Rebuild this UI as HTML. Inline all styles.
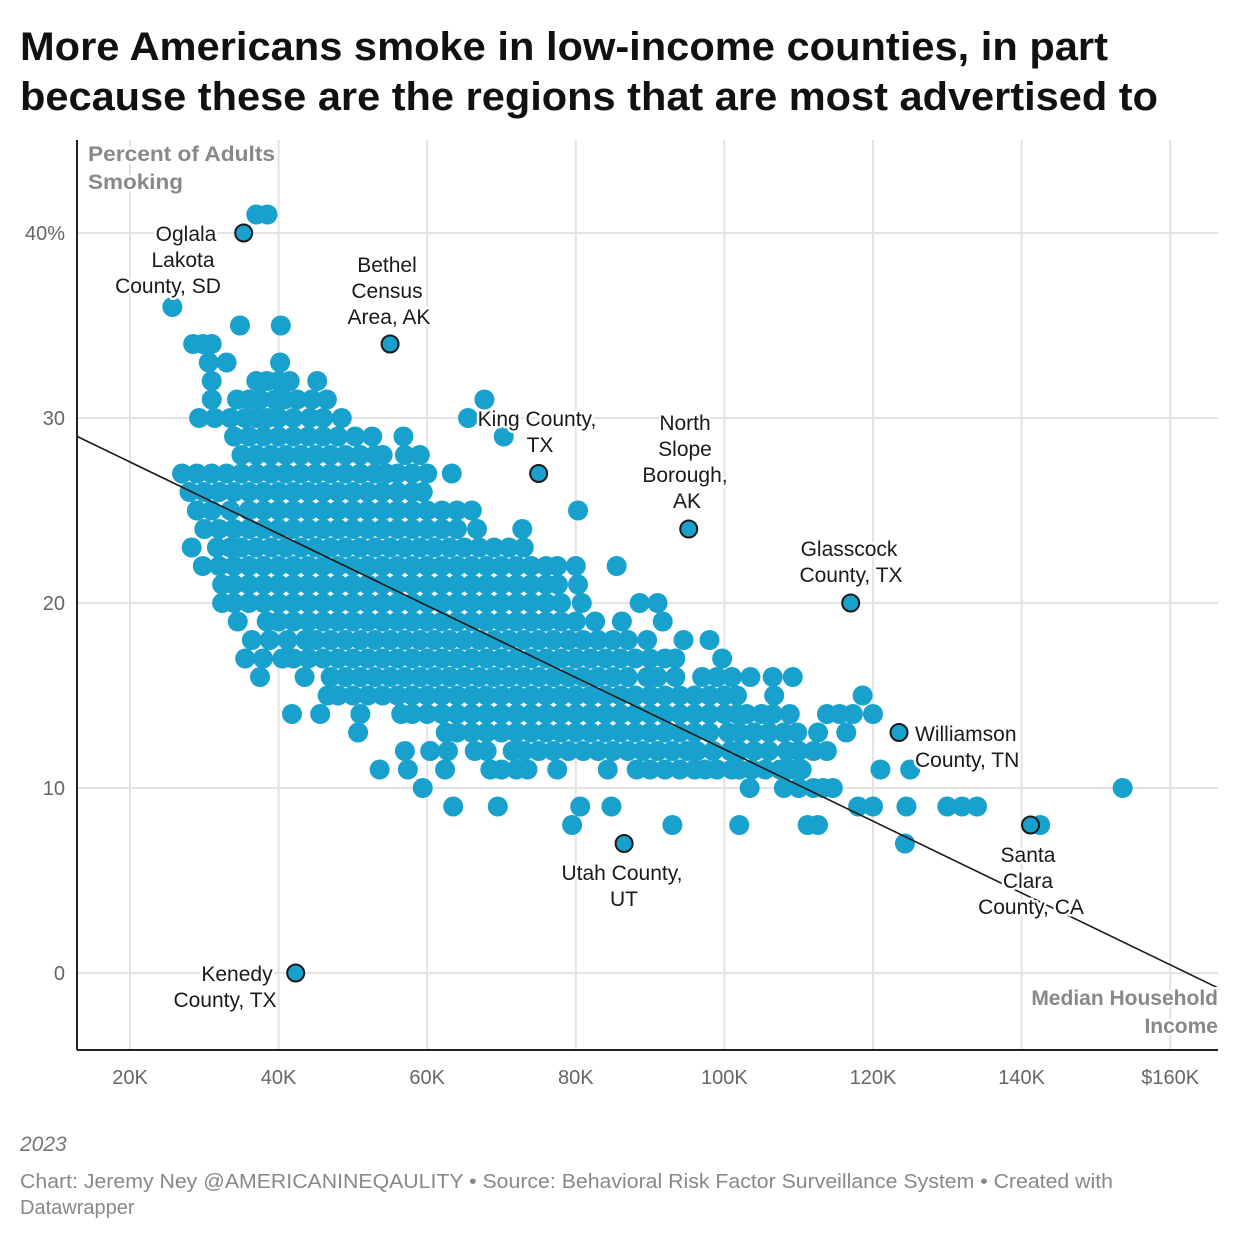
<!DOCTYPE html>
<html><head><meta charset="utf-8"><style>
html,body{margin:0;padding:0;background:#fff;}
svg{display:block;font-family:"Liberation Sans",Arial,sans-serif;}
.tick{fill:#666;font-size:20px;}
.ann{fill:#1a1a1a;font-size:21px;text-anchor:middle;paint-order:stroke;stroke:#fff;stroke-width:5px;stroke-linejoin:round;}
.axt{fill:#888;font-size:21px;font-weight:bold;paint-order:stroke;stroke:#fff;stroke-width:5px;}
</style></head><body>
<svg id="chart" width="1240" height="1240" viewBox="0 0 1240 1240">
<text x="20" y="60" font-size="40" font-weight="bold" fill="#111" textLength="1088" lengthAdjust="spacingAndGlyphs">More Americans smoke in low-income counties, in part</text>
<text x="20" y="110" font-size="40" font-weight="bold" fill="#111" textLength="1138" lengthAdjust="spacingAndGlyphs">because these are the regions that are most advertised to</text>
<g id="grid"></g>
<g id="ticks"></g>
<g id="dots"></g>
<g id="hl"></g>
<line id="trend" stroke="#1a1a1a" stroke-width="1.6"/>
<line x1="77" y1="140" x2="77" y2="1050" stroke="#222" stroke-width="2"/>
<line x1="77" y1="1050" x2="1218" y2="1050" stroke="#222" stroke-width="2"/>
<g>
<text class="ann" x="186" y="241">Oglala</text><text class="ann" x="183" y="267">Lakota</text><text class="ann" x="168" y="293">County, SD</text>
<text class="ann" x="387" y="272">Bethel</text><text class="ann" x="387" y="298">Census</text><text class="ann" x="389" y="324">Area, AK</text>
<text class="ann" x="537" y="426">King County,</text><text class="ann" x="540" y="452">TX</text>
<text class="ann" x="685" y="430">North</text><text class="ann" x="685" y="456">Slope</text><text class="ann" x="685" y="482">Borough,</text><text class="ann" x="687" y="508">AK</text>
<text class="ann" x="849" y="556">Glasscock</text><text class="ann" x="851" y="582">County, TX</text>
<text class="ann" x="915" y="741" style="text-anchor:start">Williamson</text><text class="ann" x="915" y="767" style="text-anchor:start">County, TN</text>
<text class="ann" x="622" y="880">Utah County,</text><text class="ann" x="624" y="906">UT</text>
<text class="ann" x="1028" y="862">Santa</text><text class="ann" x="1028" y="888">Clara</text><text class="ann" x="1031" y="914">County, CA</text>
<text class="ann" x="237" y="981">Kenedy</text><text class="ann" x="225" y="1007">County, TX</text>
</g>
<text class="axt" x="88" y="161" textLength="187" lengthAdjust="spacingAndGlyphs">Percent of Adults</text>
<text class="axt" x="88" y="189" textLength="95" lengthAdjust="spacingAndGlyphs">Smoking</text>
<text class="axt" x="1218" y="1005" text-anchor="end">Median Household</text>
<text class="axt" x="1218" y="1033" text-anchor="end">Income</text>
<text x="20" y="1151" font-size="21" font-style="italic" fill="#777">2023</text>
<text x="20" y="1188" font-size="20" fill="#888" textLength="1093" lengthAdjust="spacingAndGlyphs">Chart: Jeremy Ney @AMERICANINEQAULITY • Source: Behavioral Risk Factor Surveillance System • Created with</text>
<text x="20" y="1214" font-size="20" fill="#888">Datawrapper</text>
</svg>
<script>
const xTicks=[20,40,60,80,100,120,140,160];
const xTickLabels=["20K","40K","60K","80K","100K","120K","140K","$160K"];
const yTicks=[0,10,20,30,40];
const yTickLabels=["0","10","20","30","40%"];
const rowY=[41,40,36,35,34,33,32,31,30,29,28,27,26,25,24,23,22,21,20,19,18,17,16,15,14,13,12,11,10,9,8,7];
const rowX=[
[37,38.5],
[],
[25.7],
[34.8,40.3],
[28.5,29.8,31],
[30.6,33,40.2],
[31,37,38.4,40,41.5,45.2],
[31,34.4,36,37.5,39.5,40.8,42.5,44.5,46.5,67.7],
[29.3,31.4,33.5,35.5,37,38.5,40,42,44.2,46,48.5,65.5],
[34,36,38,40,42,44,46,48,50.3,52.6,56.8,70.3],
[35,37,39,41,43,45,47,49,51,53,54,57,59],
[27,29,31,33,35,37,39,41,43,45,47,49,51,53,54.5,56,58,60,63.3],
[28,30,32,34,36,38,40,42,44,46,48,50,52,54,56,58,59.4],
[29,31,33.5,36,38,40,42,44,46,48,50,52,54,56,58,60,62,64,66,80.3],
[30,32,34,36,38,40,42,44,46,48,50,52,54,56,58,60,62,64,66.7,72.8],
[28.3,31.7,33.5,35,37,39,41,43,45,47,49,51,53,55,57,59,61,63,65,67,69,71,73],
[29.8,32,34,36,38,40,42,44,46,48,50,52,54,56,58,60,62,64,66,68,70,72,74,76,77.5,80,85.5],
[32.4,34,36,38,40,42,44,46,48,50,52,54,56,58,60,62,64,66,68,70,72,74,76,77.6,80.3],
[32.4,34,36,38,40,42,44,46,48,50,52,54,56,58,60,62,64,66,68,70,72,74,76,78,80.8,88.6,91],
[34.5,38.4,40,42,44,46,48,50,52,54,56,58,60,62,64,66,68,70,72,74,76,78,80,82.6,86.2,91.7],
[36.4,38.8,41.2,43.6,45,47,49,51,53,55,57,59,61,63,65,67,69,71,73,75,77,79,81,83,85,87,89.6,94.5,98],
[35.5,37.9,40.5,42,44,46,48,50,52,54,56,58,60,62,64,66,68,70,72,74,76,78,80,82,84,86,88,90,92,93.4,99.7],
[37.5,43.5,47,49,51,53,55,57,59,61,63,65,67,69,71,73,75,77,79,81,83,85,87,89.6,91,93.4,97,99,101,103.5,106.5,109.2],
[46.6,48,50,52,54,56,58,60,62,64,66,68,70,72,74,76,78,80,82,84,86,88,90,92,94,96,98,100,101.7,106.7,118.6],
[41.8,45.6,51,56.5,58,60,62,64,66,68,70,72,74,76,78,80,82,84,86,88,90,92,94,96,98,100,101.7,103,105,106.5,108.8,113.8,115.5,117.3,120],
[50.7,62.5,64,66,68,70,72,74,76,78,80,82,84,86,88,90,92,94,96,98,100.5,102,104,106,108,109.8,112.6,116.4],
[57,60.4,62.8,66.4,68,71.5,73,75,77,79,81,83,85,87,89,91,93,95,96.3,98.5,100.8,102,104,106,108.4,110,112,113.8],
[53.6,57.4,62.4,68.5,70,72,73.5,77.5,84.3,88.2,90,92,94,96,97.4,99,101,102,103.7,105.5,107.5,109,110.4,121,125],
[59.4,103.4,108,110,112,113.3,114.6,153.6],
[63.5,69.5,80.6,84.8,118,120,124.5,130,132,134],
[79.5,93,102,111.2,112.6,142.5],
[124.3]
];
const hlNames=["oglala-lakota","bethel","king-county","north-slope","glasscock","williamson","utah-county","santa-clara","kenedy"];
const hlX=[35.3,55,75,95.2,117,123.5,86.5,141.2,42.3];
const hlY=[40,34,27,24,20,13,7,8,0];
const trendX=[12.9,166.4];
const trendY=[29.0,-0.8];

const NS="http://www.w3.org/2000/svg";
const X=v=>130+(v-20)*7.43;
const Y=v=>973-v*18.5;
const grid=document.getElementById('grid'),ticks=document.getElementById('ticks');
xTicks.forEach((t,i)=>{
 const l=document.createElementNS(NS,'line');
 
 
 l.setAttribute('x1',X(t));l.setAttribute('x2',X(t));l.setAttribute('y1',140);l.setAttribute('y2',1050);
 l.setAttribute('stroke','#e3e3e3');l.setAttribute('stroke-width','2');grid.appendChild(l);
 const tx=document.createElementNS(NS,'text');
 
 
 tx.setAttribute('x',X(t));tx.setAttribute('y',1084);tx.setAttribute('text-anchor','middle');tx.setAttribute('class','tick');
 tx.textContent=xTickLabels[i];ticks.appendChild(tx);
});
yTicks.forEach((t,i)=>{
 const l=document.createElementNS(NS,'line');
 
 
 l.setAttribute('x1',77);l.setAttribute('x2',1218);l.setAttribute('y1',Y(t));l.setAttribute('y2',Y(t));
 l.setAttribute('stroke','#e3e3e3');l.setAttribute('stroke-width','2');grid.appendChild(l);
 const tx=document.createElementNS(NS,'text');
 
 
 tx.setAttribute('x',65);tx.setAttribute('y',Y(t)+7);tx.setAttribute('text-anchor','end');tx.setAttribute('class','tick');
 tx.textContent=yTickLabels[i];ticks.appendChild(tx);
});
const dots=document.getElementById('dots');
rowY.forEach((yv,r)=>{rowX[r].forEach(xv=>{
 const c=document.createElementNS(NS,'circle');
 
 
 c.setAttribute('cx',X(xv));c.setAttribute('cy',Y(yv));c.setAttribute('r',10);c.setAttribute('fill','#19a1cd');
 dots.appendChild(c);
});});
const tr=document.getElementById('trend');
tr.setAttribute('x1',X(trendX[0]));tr.setAttribute('y1',Y(trendY[0]));
tr.setAttribute('x2',X(trendX[1]));tr.setAttribute('y2',Y(trendY[1]));
const hl=document.getElementById('hl');
hlX.forEach((xv,i)=>{
 const c=document.createElementNS(NS,'circle');
 
 
 c.setAttribute('cx',X(xv));c.setAttribute('cy',Y(hlY[i]));c.setAttribute('r',8.5);
 c.setAttribute('fill','#19a1cd');c.setAttribute('stroke','#1a1a1a');c.setAttribute('stroke-width','2');
 hl.appendChild(c);
});
</script>
</body></html>
